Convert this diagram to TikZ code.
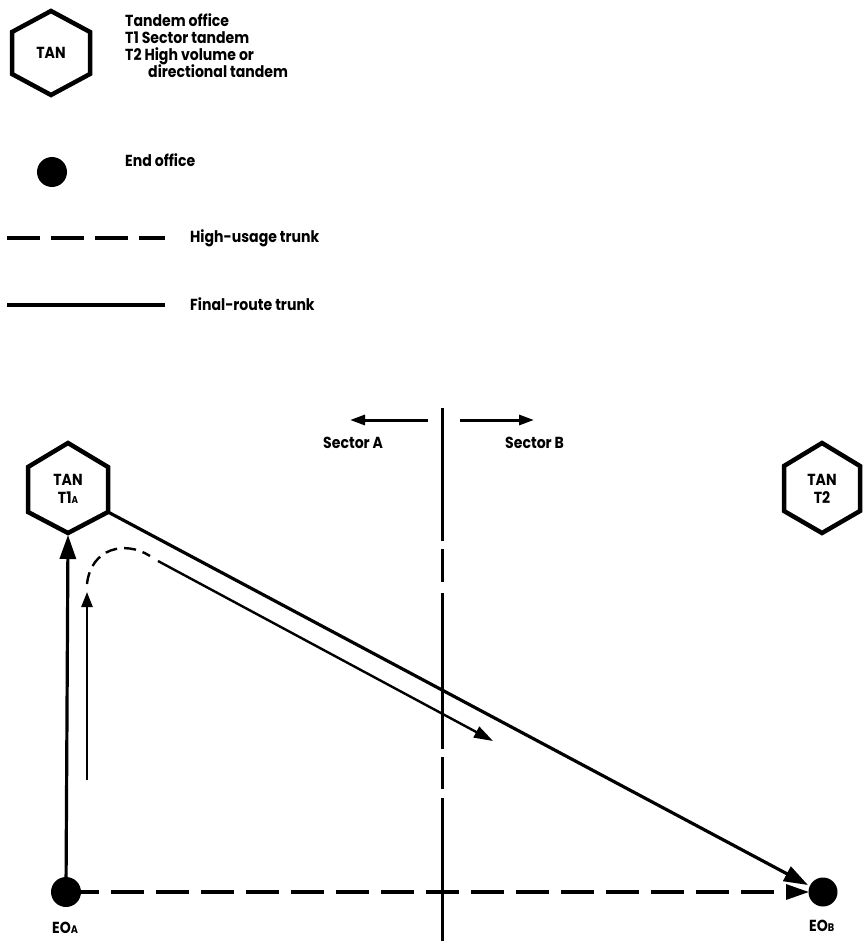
\documentclass[tikz,border=0pt]{standalone}
\usepackage{fontspec}
\setmainfont{Poppins}[FakeStretch=0.88]
\usetikzlibrary{arrows.meta}
\begin{document}
\begin{tikzpicture}[x=1pt,y=-1pt,
  lbl/.style={font=\bfseries\fontsize{16}{18}\selectfont, anchor=base west, inner sep=0pt},
  hextxt/.style={font=\bfseries\fontsize{16}{18}\selectfont, align=center, inner sep=0pt},
  hexline/.style={line width=4.5pt, line join=miter},
  hitrunk/.style={line width=3.2pt, dash pattern=on 33pt off 11pt},
  fintrunk/.style={line width=3.2pt},
  bigtip/.style={-{Triangle[length=24pt,width=16pt]}},
  dot/.style={circle, fill=black, inner sep=0pt, minimum size=30pt}]
\useasboundingbox (0,0) rectangle (863,941);

% ---------- legend ----------
\draw[hexline] (51,11) -- (90,32) -- (90,74) -- (51,95) -- (12,74) -- (12,32) -- cycle;
\node[hextxt] (lhex) at (51,53) {TAN};
\node[lbl] (l1) at (125,27) {Tandem office};
\node[lbl] (l2) at (125,44) {T1 Sector tandem};
\node[lbl] (l3) at (125,61) {T2 High volume or};
\node[lbl] (l4) at (148,78) {directional tandem};

\node[dot] (ldot) at (52,172) {};
\node[lbl] (l5) at (125,167) {End office};

\coordinate (hu1) at (7,238);
\coordinate (hu2) at (165,238);
\draw[hitrunk] (hu1) -- (hu2);
\node[lbl] (l6) at (190,243) {High-usage trunk};

\coordinate (fr1) at (7,305);
\coordinate (fr2) at (165,305);
\draw[fintrunk] (fr1) -- (fr2);
\node[lbl] (l7) at (190,310) {Final-route trunk};

% ---------- main diagram ----------
% T1A hexagon
\draw[hexline] (68,443) -- (108,467) -- (108,512) -- (68,533) -- (28,512) -- (28,467) -- cycle;
\coordinate (t1b) at (68,535);
\coordinate (t1br) at (108,512);
\node[hextxt] (t1) at (68,489) {TAN\\T1{\fontsize{10}{10}\selectfont A}};

% T2 hexagon
\draw[hexline] (822,443) -- (860,466) -- (860,511) -- (822,533) -- (784,511) -- (784,466) -- cycle;
\node[hextxt] (t2) at (822,489) {TAN\\T2};

% end offices
\node[dot] (eoa) at (66,892) {};
\node[dot, minimum size=29pt] (eob) at (823,892) {};
\node[lbl] (eoal) at (52,933) {EO{\fontsize{11}{11}\selectfont A}};
\node[lbl] (eobl) at (809,931) {EO{\fontsize{11}{11}\selectfont B}};

% vertical final route EO_A -> T1A
\draw[fintrunk, bigtip] (eoa.center) -- (t1b);

% diagonal final route T1A -> EO_B
\coordinate (dtip) at (808,885);
\draw[fintrunk, bigtip] (t1br) -- (dtip);

% horizontal high-usage EO_A -> EO_B
\coordinate (htip) at (809,892);
\draw[line width=3.2pt, dash pattern=on 33pt off 12pt, -{Triangle[length=23pt,width=15pt]}] (eoa.center) -- (htip);

% sector divider
\coordinate (dv1) at (442,408);
\coordinate (dv2) at (442,941);
\draw[line width=3pt, dash pattern=on 133pt off 8pt on 33pt off 11pt on 156pt off 8pt on 32pt off 9pt on 200pt off 10pt] (dv1) -- (dv2);

% sector arrows
\coordinate (sa1) at (428,420);
\coordinate (sa2) at (350,420);
\coordinate (sb1) at (460,420);
\coordinate (sb2) at (534,420);
\draw[line width=3pt, -{Triangle[length=15pt,width=10pt]}] (sa1) -- (sa2);
\draw[line width=3pt, -{Triangle[length=15pt,width=10pt]}] (sb1) -- (sb2);
\node[lbl] (sal) at (323,448) {Sector A};
\node[lbl] (sbl) at (505,448) {Sector B};

% routing path (thin)
\coordinate (r1) at (87,780);
\coordinate (r2) at (87,592);
\draw[line width=2.4pt, -{Triangle[length=15pt,width=11pt]}] (r1) -- (r2);
\coordinate (c1) at (87,584);
\coordinate (c2) at (150,556);
\draw[line width=2.4pt, dash pattern=on 12pt off 7pt] (c1) .. controls (91,548) and (125,540) .. (c2);
\coordinate (s1) at (158,561);
\coordinate (s2) at (493,741);
\draw[line width=2.4pt, -{Triangle[length=19pt,width=12pt]}] (s1) -- (s2);
\end{tikzpicture}
\end{document}
